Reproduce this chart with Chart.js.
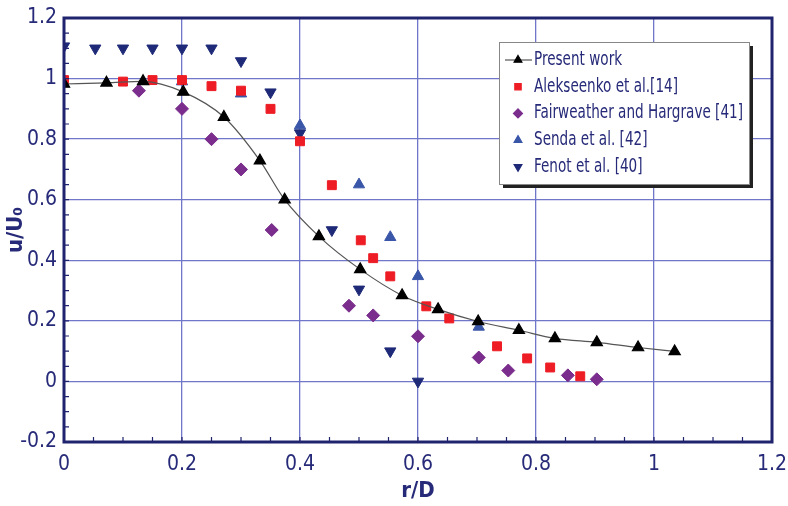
<!DOCTYPE html>
<html>
<head>
<meta charset="utf-8">
<script src="https://cdn.jsdelivr.net/npm/chart.js@4.4.1/dist/chart.umd.min.js"></script>
<style>
  body { margin: 0; background: #fff; }
  #wrap { width: 788px; height: 506px; }
</style>
</head>
<body>
<div id="wrap"><canvas id="grafico" width="788" height="506"></canvas></div>
<script>
// dados
const presenteX = [0, 0.072, 0.134, 0.202, 0.271, 0.332, 0.374, 0.432, 0.502, 0.573, 0.634, 0.702, 0.771, 0.832, 0.903, 0.973, 1.035]
const presenteY = [0.982, 0.986, 0.991, 0.956, 0.873, 0.729, 0.6, 0.479, 0.37, 0.284, 0.238, 0.198, 0.169, 0.142, 0.129, 0.112, 0.099]

const alekseenkoX = [0, 0.1, 0.15, 0.2, 0.25, 0.3, 0.35, 0.4, 0.454, 0.503, 0.524, 0.553, 0.614, 0.653, 0.734, 0.785, 0.824, 0.875]
const alekseenkoY = [0.995, 0.99, 0.995, 0.995, 0.975, 0.96, 0.9, 0.793, 0.648, 0.466, 0.407, 0.347, 0.248, 0.208, 0.116, 0.076, 0.046, 0.017]

const fairweatherX = [0.127, 0.2, 0.25, 0.3, 0.352, 0.483, 0.524, 0.6, 0.703, 0.753, 0.854, 0.903]
const fairweatherY = [0.96, 0.9, 0.8, 0.7, 0.5, 0.25, 0.218, 0.149, 0.079, 0.036, 0.02, 0.007]

const sendaX = [0.2, 0.3, 0.4, 0.5, 0.553, 0.6, 0.703]
const sendaY = [0.99, 0.95, 0.845, 0.65, 0.476, 0.347, 0.18]

const fenotX = [0, 0.053, 0.1, 0.15, 0.2, 0.25, 0.3, 0.35, 0.4, 0.454, 0.5, 0.553, 0.6]
const fenotY = [1.107, 1.1, 1.1, 1.1, 1.1, 1.1, 1.058, 0.955, 0.82, 0.5, 0.304, 0.1, 0.0]

const ticksX = [0, 0.2, 0.4, 0.6, 0.8, 1, 1.2]
const ticksY = [-0.2, 0, 0.2, 0.4, 0.6, 0.8, 1, 1.2]

const fonte = "'DejaVu Sans Condensed', 'DejaVu Sans', sans-serif"
const corTexto = '#262a78'
const corMoldura = '#20236e'
const corGrade = '#7076c8'

function junta(xs, ys) {
  return xs.map((x, i) => ({ x: x, y: ys[i] }))
}

// moldura e tracinhos menores
const moldura = {
  id: 'moldura',
  afterDraw(chart) {
    const ctx = chart.ctx
    const area = chart.chartArea
    const sx = chart.scales.x
    const sy = chart.scales.y
    ctx.save()
    ctx.strokeStyle = corMoldura
    ctx.lineWidth = 1.2
    ctx.beginPath()
    for (let v = 0; v <= 1.2001; v += 0.05) {
      const px = sx.getPixelForValue(v)
      ctx.moveTo(px, area.bottom)
      ctx.lineTo(px, area.bottom - 5)
    }
    for (let v = -0.2; v <= 1.2001; v += 0.05) {
      const py = sy.getPixelForValue(v)
      ctx.moveTo(area.left, py)
      ctx.lineTo(area.left + 5, py)
    }
    ctx.stroke()
    ctx.lineWidth = 3
    ctx.strokeRect(area.left, area.top, area.right - area.left, area.bottom - area.top)
    ctx.restore()
  }
}

// legenda dentro do grafico
const legenda = {
  id: 'legenda',
  afterDraw(chart) {
    const ctx = chart.ctx
    const x0 = 499, y0 = 42, w = 250, h = 142
    ctx.save()
    ctx.fillStyle = '#222'
    ctx.fillRect(x0 + 4, y0 + 4, w, h)
    ctx.fillStyle = '#fff'
    ctx.fillRect(x0, y0, w, h)
    ctx.strokeStyle = '#888'
    ctx.lineWidth = 1
    ctx.strokeRect(x0 + 0.5, y0 + 0.5, w, h)
    ctx.font = '19px ' + fonte
    ctx.textBaseline = 'middle'
    // texto um pouco estreito como no original
    let maior = 0
    chart.data.datasets.forEach(ds => { maior = Math.max(maior, ctx.measureText(ds.label).width) })
    const escala = Math.min(1, 209 / maior)
    chart.data.datasets.forEach((ds, i) => {
      const y = 60 + i * 26.7
      if (ds.showLine) {
        ctx.strokeStyle = ds.borderColor
        ctx.lineWidth = 1.2
        ctx.beginPath()
        ctx.moveTo(505, y)
        ctx.lineTo(532, y)
        ctx.stroke()
      }
      ctx.fillStyle = ds.pointBackgroundColor
      ctx.strokeStyle = ds.pointBackgroundColor
      Chart.helpers.drawPoint(ctx, {
        pointStyle: ds.pointStyle,
        rotation: ds.rotation || 0,
        radius: 4.5,
        borderWidth: 1
      }, 518, y)
      ctx.save()
      ctx.translate(534, y)
      ctx.scale(escala, 1)
      ctx.fillStyle = corTexto
      ctx.fillText(ds.label, 0, 0)
      ctx.restore()
    })
    ctx.restore()
  }
}

const grafico = new Chart(document.getElementById('grafico'), {
  type: 'scatter',
  data: {
    datasets: [{
      label: 'Present work',
      data: junta(presenteX, presenteY),
      showLine: true,
      borderColor: '#555555',
      borderWidth: 1.2,
      tension: 0.4,
      cubicInterpolationMode: 'monotone',
      pointStyle: 'triangle',
      pointRadius: 6.5,
      pointBackgroundColor: '#000000',
      pointBorderColor: '#000000'
    }, {
      label: 'Alekseenko et al.[14]',
      data: junta(alekseenkoX, alekseenkoY),
      pointStyle: 'rect',
      pointRadius: 6.3,
      pointBackgroundColor: '#ee1c24',
      pointBorderColor: '#ee1c24'
    }, {
      label: 'Fairweather and Hargrave [41]',
      data: junta(fairweatherX, fairweatherY),
      pointStyle: 'rectRot',
      pointRadius: 6.5,
      pointBackgroundColor: '#7a2d8c',
      pointBorderColor: '#7a2d8c'
    }, {
      label: 'Senda et al. [42]',
      data: junta(sendaX, sendaY),
      pointStyle: 'triangle',
      pointRadius: 6.5,
      pointBackgroundColor: '#3a56a8',
      pointBorderColor: '#3a56a8'
    }, {
      label: 'Fenot et al. [40]',
      data: junta(fenotX, fenotY),
      pointStyle: 'triangle',
      rotation: 180,
      pointRotation: 180,
      pointRadius: 6.5,
      pointBackgroundColor: '#1e2a78',
      pointBorderColor: '#1e2a78'
    }]
  },
  options: {
    responsive: false,
    animation: false,
    layout: { padding: { top: 18, right: 16, left: 0, bottom: 0 } },
    plugins: {
      legend: { display: false },
      tooltip: { enabled: false }
    },
    scales: {
      x: {
        type: 'linear',
        min: 0,
        max: 1.2,
        afterFit: (s) => { s.height = 64; s.paddingLeft = 0; s.paddingRight = 0 },
        afterBuildTicks: (s) => { s.ticks = ticksX.map(v => ({ value: v })) },
        grid: { color: corGrade, lineWidth: 1.3, drawTicks: false },
        border: { display: false },
        ticks: {
          padding: 10,
          color: corTexto,
          font: { family: fonte, size: 21 },
          callback: (v) => String(Math.round(v * 10) / 10)
        },
        title: {
          display: true,
          text: 'r/D',
          color: corTexto,
          font: { family: fonte, size: 22, weight: 'bold' },
          padding: { top: 0, bottom: 2 }
        }
      },
      y: {
        type: 'linear',
        min: -0.2,
        max: 1.2,
        afterFit: (s) => { s.width = 64; s.paddingTop = 0; s.paddingBottom = 0 },
        afterBuildTicks: (s) => { s.ticks = ticksY.map(v => ({ value: v })) },
        grid: { color: corGrade, lineWidth: 1.3, drawTicks: false },
        border: { display: false },
        ticks: {
          padding: 7,
          color: corTexto,
          font: { family: fonte, size: 21 },
          callback: (v) => String(Math.round(v * 10) / 10)
        },
        title: {
          display: true,
          text: 'u/U₀',
          color: corTexto,
          font: { family: fonte, size: 22, weight: 'bold' },
          padding: { top: 3, bottom: 0 }
        }
      }
    }
  },
  plugins: [moldura, legenda]
})
</script>
</body>
</html>
